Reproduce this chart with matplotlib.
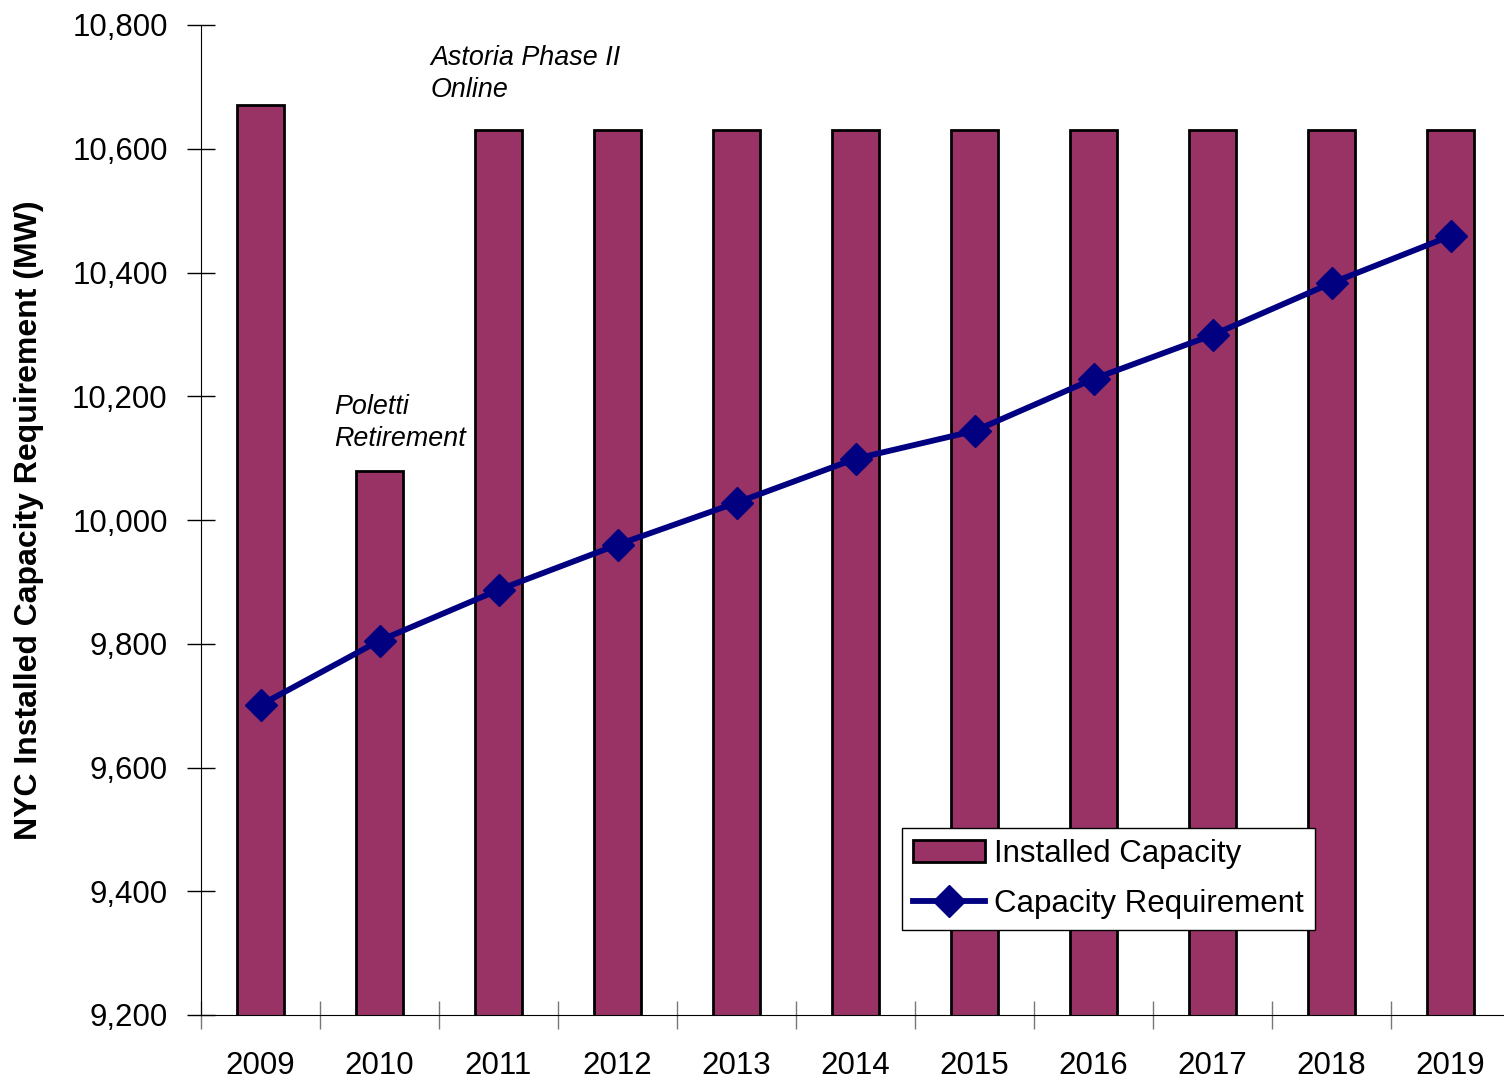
import matplotlib
matplotlib.use("Agg")
import matplotlib.pyplot as plt
from matplotlib.ticker import FuncFormatter, FixedLocator
import numpy as np

years = ["2009", "2010", "2011", "2012", "2013", "2014", "2015", "2016", "2017", "2018", "2019"]
installed = [10671, 10079, 10630, 10630, 10630, 10630, 10630, 10630, 10630, 10630, 10630]
requirement = [9701, 9805, 9887, 9960, 10028, 10099, 10144, 10228, 10299, 10383, 10459]
yticks = [9200, 9400, 9600, 9800, 10000, 10200, 10400, 10600, 10800]

plt.rcParams['font.family'] = ['Liberation Sans', 'DejaVu Sans']

fig = plt.figure(figsize=(15.04, 10.84), dpi=100)
ax = fig.add_axes([201/1504, 1 - 1015/1084, 1 - 201/1504, (1015 - 25)/1084])

x = np.arange(len(years))
bars = ax.bar(x, installed, width=0.4, color="#993366", edgecolor="black", linewidth=2,
              label="Installed Capacity", zorder=2)
line, = ax.plot(x, requirement, color="#000080", linewidth=4.2, marker="D", markersize=16,
                label="Capacity Requirement", zorder=3)

ax.set_ylim(9200, 10800)
ax.set_xlim(-0.5, (1504 - 201) / 119 - 0.5)
ax.yaxis.set_major_locator(FixedLocator(yticks))
ax.yaxis.set_major_formatter(FuncFormatter(lambda v, p: f"{int(v):,}"))
ax.tick_params(axis='y', direction='inout', length=20, width=1, labelsize=22.5, pad=14, colors='black')

ax.set_xticks(x)
ax.set_xticklabels(years)
ax.set_xticks(np.arange(-0.5, len(years) - 0.5, 1.0), minor=True)
ax.tick_params(axis='x', which='major', length=0, labelsize=22.5, pad=26)
ax.tick_params(axis='x', which='minor', direction='inout', length=20, width=1, color='#777777')

for s in ['top', 'right']:
    ax.spines[s].set_visible(False)
ax.spines['left'].set_color('black')
ax.spines['bottom'].set_color('black')

ax.set_ylabel("NYC Installed Capacity Requirement (MW)", fontsize=23, fontweight='bold', labelpad=20)

ax.text(0.62, 10203, "Poletti\nRetirement", fontsize=19.4, style='italic', va='top', ha='left', linespacing=1.3)
ax.text(1.43, 10767, "Astoria Phase II\nOnline", fontsize=19.4, style='italic', va='top', ha='left', linespacing=1.3)

leg = ax.legend([bars, line], ["Installed Capacity", "Capacity Requirement"],
                loc='lower left', bbox_to_anchor=((902 - 201) / 1303, (1015 - 930) / 990),
                fontsize=22.5, frameon=True, fancybox=False, edgecolor='black', framealpha=1,
                handlelength=2.3, handletextpad=0.3, borderpad=0.35, labelspacing=0.65,
                borderaxespad=0)
leg.get_frame().set_linewidth(1)

fig.savefig("out.png", dpi=100)
